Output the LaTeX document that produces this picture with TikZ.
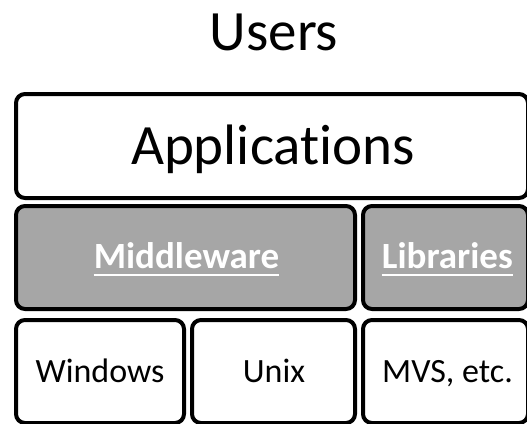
\documentclass[tikz,border=0pt]{standalone}
\usepackage{fontspec}
\setmainfont{Carlito}[Ligatures=CommonOff]
\definecolor{boxgrey}{HTML}{A6A6A6}
\begin{document}
\begin{tikzpicture}[x=1pt,y=-1pt,
  layer/.style={draw=black, line width=4pt, rounded corners=9pt, inner sep=0pt, anchor=center},
  plain/.style={layer, fill=white},
  greybox/.style={layer, fill=boxgrey},
  bigtxt/.style={font=\fontsize{57}{60}\selectfont, anchor=base, inner sep=0pt},
  boldtxt/.style={font=\fontsize{37}{40}\selectfont\bfseries, text=white, anchor=base, inner sep=0pt},
  smalltxt/.style={font=\fontsize{34}{38}\selectfont, anchor=base, inner sep=0pt},
  uline/.style={draw=white, line width=2pt}]
\useasboundingbox (0,0) rectangle (527,423);
\begin{scope}
\clip (0,0) rectangle (527,423);
\node[plain, minimum width=512pt, minimum height=104pt] (app) at (272,146) {};
\node[greybox, minimum width=339pt, minimum height=103pt] (mid) at (185.5,257.5) {};
\node[greybox, minimum width=165pt, minimum height=103pt] (lib) at (445.5,257.5) {};
\node[plain, minimum width=168pt, minimum height=103pt] (win) at (100,371.5) {};
\node[plain, minimum width=163pt, minimum height=103pt] (unix) at (273.5,371.5) {};
\node[plain, minimum width=165pt, minimum height=103pt] (mvs) at (445.5,371.5) {};
\end{scope}
\node[bigtxt] (userstxt) at (274,50) {Users};
\node[bigtxt] (apptxt) at (273,164) {Applications};
\node[boldtxt] (midtxt) at (186.5,268) {Middleware};
\node[boldtxt] (libtxt) at (447.3,268) {Libraries};
\draw[uline] ([yshift=-7pt]midtxt.base west) -- ([yshift=-7pt]midtxt.base east);
\draw[uline] ([yshift=-7pt]libtxt.base west) -- ([yshift=-7pt]libtxt.base east);
\node[smalltxt] (wintxt) at (100,382) {Windows};
\node[smalltxt] (unixtxt) at (274,382) {Unix};
\node[smalltxt] (mvstxt) at (447.5,382) {MVS, etc.};
\end{tikzpicture}
\end{document}
